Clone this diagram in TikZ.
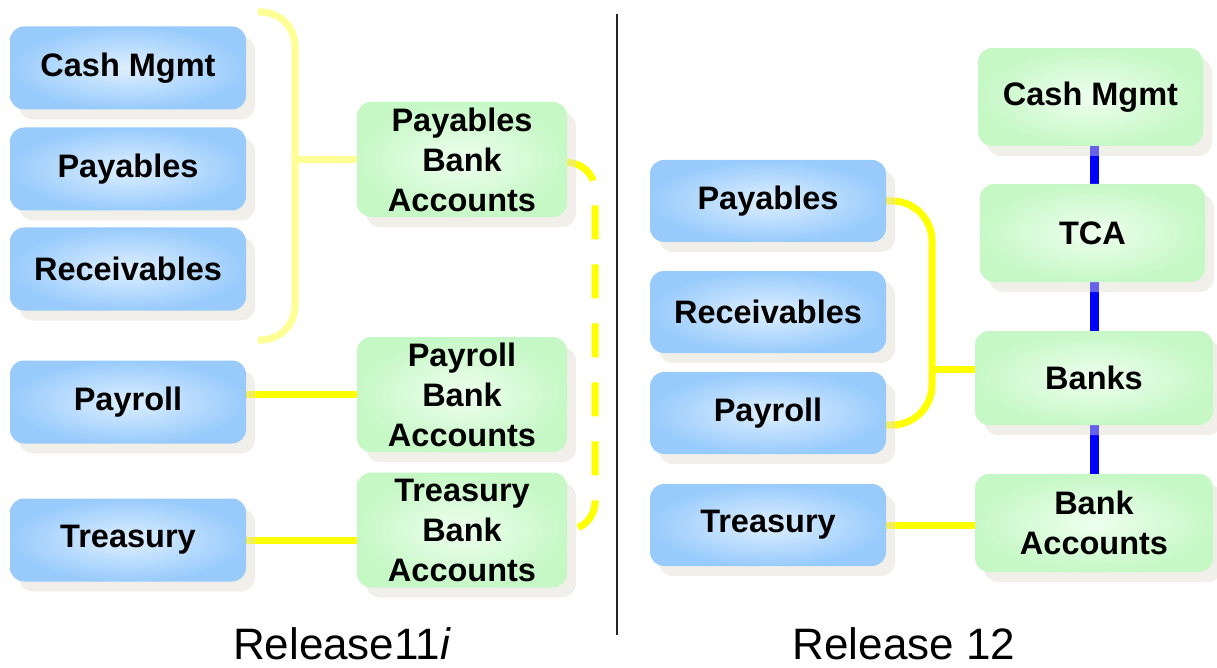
\documentclass[tikz,border=0pt]{standalone}
\usepackage{fontspec}
\setmainfont{Liberation Sans}
\usetikzlibrary{shadows,backgrounds}

\definecolor{blueedge}{RGB}{152,203,252}
\definecolor{bluecore}{RGB}{222,239,255}
\definecolor{greenedge}{RGB}{198,248,198}
\definecolor{greencore}{RGB}{238,255,238}
\definecolor{shadowgrey}{RGB}{225,221,208}
\definecolor{paleyellow}{RGB}{255,255,150}
\definecolor{wireyellow}{RGB}{255,255,0}
\definecolor{wireblue}{RGB}{0,0,255}

\begin{document}
\begin{tikzpicture}[x=1pt,y=-1pt,
  box/.style={rounded corners=14pt, inner sep=0pt, align=center,
    font=\fontsize{32.5}{40}\selectfont\bfseries,
    drop shadow={shadow xshift=9pt, shadow yshift=-10pt, fill=shadowgrey, opacity=0.45}},
  bluebox/.style={box, inner color=bluecore, outer color=blueedge,
    minimum width=236pt, minimum height=83pt},
  greenbox/.style={box, inner color=greencore, outer color=greenedge},
  palewire/.style={draw=paleyellow, line width=7pt},
  wire/.style={draw=wireyellow, line width=7pt},
  dashwire/.style={draw=wireyellow, line width=7pt, dash pattern=on 34pt off 25pt},
  bluewire/.style={draw=wireblue, line width=9pt},
  caption/.style={font=\fontsize{44}{48}\selectfont, anchor=base}]

\useasboundingbox (0,0) rectangle (1217,668);

% ---------- Release 11i ----------
\node[bluebox] (cm1)   at (128,68)  {Cash Mgmt};
\node[bluebox] (pay1)  at (128,169)   {Payables};
\node[bluebox] (rec1)  at (128,269)   {Receivables};
\node[bluebox] (payr1) at (128,402)   {Payroll};
\node[bluebox] (tre1)  at (128,540) {Treasury};

\node[greenbox, minimum width=210pt, minimum height=115pt] (pba)  at (462,159.5)
  {Payables\\Bank\\Accounts};
\node[greenbox, minimum width=210pt, minimum height=115pt] (prba) at (462,394.5)
  {Payroll\\Bank\\Accounts};
\node[greenbox, minimum width=210pt, minimum height=115pt] (tba)  at (462,530)
  {Treasury\\Bank\\Accounts};

% ---------- Release 12 ----------
\node[bluebox, minimum height=82pt] (pay2)  at (768,201) {Payables};
\node[bluebox, minimum height=82pt] (rec2)  at (768,312) {Receivables};
\node[bluebox, minimum height=82pt] (payr2) at (768,413) {Payroll};
\node[bluebox, minimum height=82pt] (tre2)  at (768,525) {Treasury};

\node[greenbox, minimum width=225pt, minimum height=98pt] (cm2)   at (1090.5,97)  {Cash Mgmt};
\node[greenbox, minimum width=225pt, minimum height=98pt] (tca)   at (1092.5,233) {TCA};
\node[greenbox, minimum width=238pt, minimum height=94pt] (banks) at (1094,378) {Banks};
\node[greenbox, minimum width=238pt, minimum height=98pt] (ba)    at (1094,523)
  {Bank\\Accounts};

% divider between the two releases
\coordinate (divtop) at (617,14);
\coordinate (divbot) at (617,635);
\draw[line width=2.5pt, black!85] (divtop) -- (divbot);

% captions
\node[caption] (r11) at (342,659) {Release11\textit{i}};
\node[caption] (r12) at (904,659) {Release 12};

% ---------- connectors, kept under the boxes and their shadows ----------
\begin{scope}[on background layer]
  \fill[white] (0,0) rectangle (1217,668);

  % bracket gathering the three modules of 11i
  \coordinate (brt) at (258,12);
  \coordinate (brb) at (258,340);
  \coordinate (brm) at (295,160);
  \draw[palewire, rounded corners=34pt] (brt) -- (brt -| brm) -- (brb -| brm) -- (brb);
  \draw[palewire] (brm) -- (pba.west |- brm);

  \draw[wire] (prba.west) -- (prba.west -| payr1.east);
  \draw[wire] (tre1.east) -- (tre1.east -| tba.west);

  % dashed link between the bank account sets
  \coordinate (dx) at (595,0);
  \draw[dashwire, rounded corners=28pt]
    ([yshift=-3pt]pba.east) -- ([yshift=-3pt]pba.east -| dx) -- (tba.east -| dx) -- (tba.east);

  % Release 12 links
  \coordinate (rj) at (932,369);
  \draw[wire, rounded corners=40pt]
    (pay2.east) -- (pay2.east -| rj) -- ([yshift=-12pt]payr2.east -| rj) -- ([yshift=-12pt]payr2.east);
  \draw[wire] (rj) -- (rj -| banks.west);
  \draw[wire] (tre2.east) -- (tre2.east -| ba.west);

  \draw[bluewire] (cm2.south -| banks.north) -- (tca.north -| banks.north);
  \draw[bluewire] (tca.south -| banks.north) -- (banks.north);
  \draw[bluewire] (banks.south) -- (ba.north);
\end{scope}
\end{tikzpicture}
\end{document}
